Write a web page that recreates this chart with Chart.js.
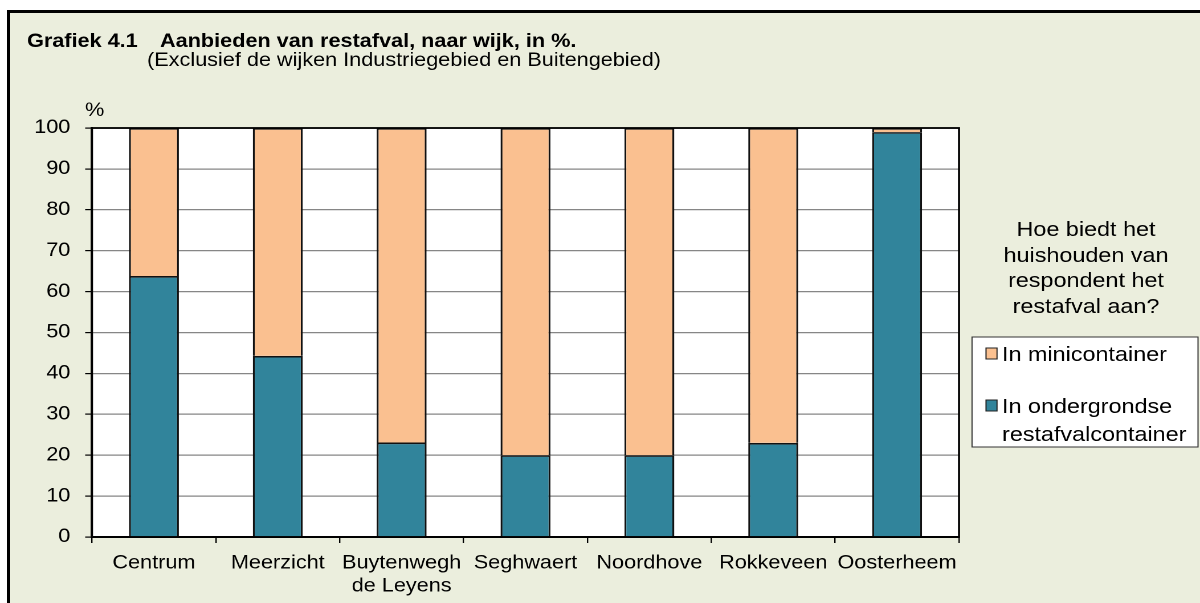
<!DOCTYPE html>
<html>
<head>
<meta charset="utf-8">
<script src="https://cdn.jsdelivr.net/npm/chart.js@4.4.1/dist/chart.umd.min.js"></script>
<style>
  html, body { margin: 0; padding: 0; background: #fff; overflow: hidden; }
  /* beige panel with black edge, runs off the right and bottom of the window */
  #frame { position: absolute; left: 7px; top: 10px; width: 1210px; height: 610px;
           background: #EBEEDD; border-left: 3px solid #000; border-top: 3px solid #000; }
  /* the reference is stretched sideways, so draw narrow and scale up */
  #wrap { position: absolute; left: 0; top: 0; width: 1053px; height: 603px;
          transform: scaleX(1.13960); transform-origin: 0 0; }
</style>
</head>
<body>
<div id="frame"></div>
<div id="wrap"><canvas id="chart" width="1053" height="603"></canvas></div>
<script>
// Data
const categories = ['Centrum', 'Meerzicht', ['Buytenwegh', 'de Leyens'], 'Seghwaert', 'Noordhove', 'Rokkeveen', 'Oosterheem'];
const ondergronds = [63.8, 44.3, 23.1, 20.0, 20.0, 23.0, 99.0];
const minicontainer = [36.2, 55.7, 76.9, 80.0, 80.0, 77.0, 1.0];
const yMin = 0, yMax = 100, yStep = 10;

const titleNum = 'Grafiek 4.1',
      titleText = 'Aanbieden van restafval, naar wijk, in %.',
      subTitle = '(Exclusief de wijken Industriegebied en Buitengebied)',
      yTitle = '%',
      legendTitle = ['Hoe biedt het', 'huishouden van', 'respondent het', 'restafval aan?'],
      legendMini = ['In minicontainer'],
      legendOnder = ['In ondergrondse', 'restafvalcontainer'];

const tealColor = '#31849B',
      orangeColor = '#FAC090',
      gridColor = '#868686',
      FONT = '"Liberation Sans", Arial, sans-serif',
      fontSize = 19,
      legendSize = 20.5;

const S = 1200 / 1053;          // sideways stretch of the page
const rx = x => x / S;          // page x -> canvas x

// Extra drawing: white plot area, frame, titles and the legend box
const decor = {
  id: 'decor',
  beforeDraw(chart) {
    const { ctx, chartArea: a } = chart;
    ctx.save();
    ctx.fillStyle = '#fff';
    ctx.fillRect(a.left, a.top, a.right - a.left, a.bottom - a.top);
    ctx.restore();
  },
  afterDatasetsDraw(chart) {
    const { ctx, chartArea: a } = chart;
    ctx.save();
    ctx.strokeStyle = '#000';
    ctx.lineWidth = 1.8;
    ctx.strokeRect(a.left, a.top, a.right - a.left, a.bottom - a.top);
    ctx.restore();
  },
  afterDraw(chart) {
    const ctx = chart.ctx;
    ctx.save();
    ctx.fillStyle = '#000';
    ctx.textBaseline = 'alphabetic';

    // titles
    ctx.font = 'bold ' + fontSize + 'px ' + FONT;
    ctx.fillText(titleNum, rx(27), 47);
    ctx.fillText(titleText, rx(160), 47);
    ctx.font = fontSize + 'px ' + FONT;
    ctx.fillText(subTitle, rx(147), 66);
    ctx.fillText(yTitle, rx(85), 116);

    // legend title
    ctx.font = legendSize + 'px ' + FONT;
    ctx.textAlign = 'center';
    const lBase = [236, 262, 287, 313];
    legendTitle.forEach((t, i) => ctx.fillText(t, rx(1086), lBase[i]));

    // legend box
    ctx.textAlign = 'left';
    ctx.fillStyle = '#fff';
    ctx.fillRect(rx(972), 337, rx(226), 110);
    ctx.strokeStyle = '#333';
    ctx.lineWidth = 1;
    ctx.strokeRect(rx(972), 337, rx(226), 110);

    const items = [
      { lines: legendMini, color: chart.data.datasets[1].backgroundColor, top: 348, base: [361] },
      { lines: legendOnder, color: chart.data.datasets[0].backgroundColor, top: 400, base: [413, 441] }
    ];
    items.forEach(it => {
      ctx.fillStyle = it.color;
      ctx.fillRect(rx(986), it.top, rx(11), 11);
      ctx.strokeStyle = '#222';
      ctx.lineWidth = 1;
      ctx.strokeRect(rx(986), it.top, rx(11), 11);
      ctx.fillStyle = '#000';
      it.lines.forEach((t, i) => ctx.fillText(t, rx(1002), it.base[i]));
    });
    ctx.restore();
  }
};

const tickFont = { family: FONT, size: fontSize, lineHeight: 1.2 };

const chart = new Chart(document.getElementById('chart'), {
  type: 'bar',
  data: {
    labels: categories,
    datasets: [
      { label: legendOnder.join(' '), data: ondergronds, backgroundColor: tealColor,
        borderColor: '#111', borderWidth: 1.7, categoryPercentage: 1, barPercentage: 0.403 },
      { label: legendMini.join(' '), data: minicontainer, backgroundColor: orangeColor,
        borderColor: '#111', borderWidth: 1.7, categoryPercentage: 1, barPercentage: 0.403 }
    ]
  },
  options: {
    responsive: false,
    devicePixelRatio: 2,
    animation: false,
    layout: { padding: { left: 0, top: 128, right: 1053 - rx(959), bottom: 0 } },
    plugins: { legend: { display: false }, tooltip: { enabled: false } },
    scales: {
      x: {
        stacked: true,
        grid: { drawOnChartArea: false, color: '#000', tickLength: 6, lineWidth: 1.2 },
        border: { color: '#000', width: 2 },
        ticks: { color: '#000', font: tickFont, padding: 9, maxRotation: 0, autoSkip: false },
        afterFit: s => { s.height = 66; }
      },
      y: {
        stacked: true,
        min: yMin,
        max: yMax,
        grid: { color: gridColor, lineWidth: 1.2, tickColor: '#000', tickLength: 6 },
        border: { color: '#000', width: 2 },
        ticks: { stepSize: yStep, color: '#000', font: tickFont, padding: 13 },
        afterFit: s => { s.width = rx(92); }
      }
    }
  },
  plugins: [decor]
});
</script>
</body>
</html>
